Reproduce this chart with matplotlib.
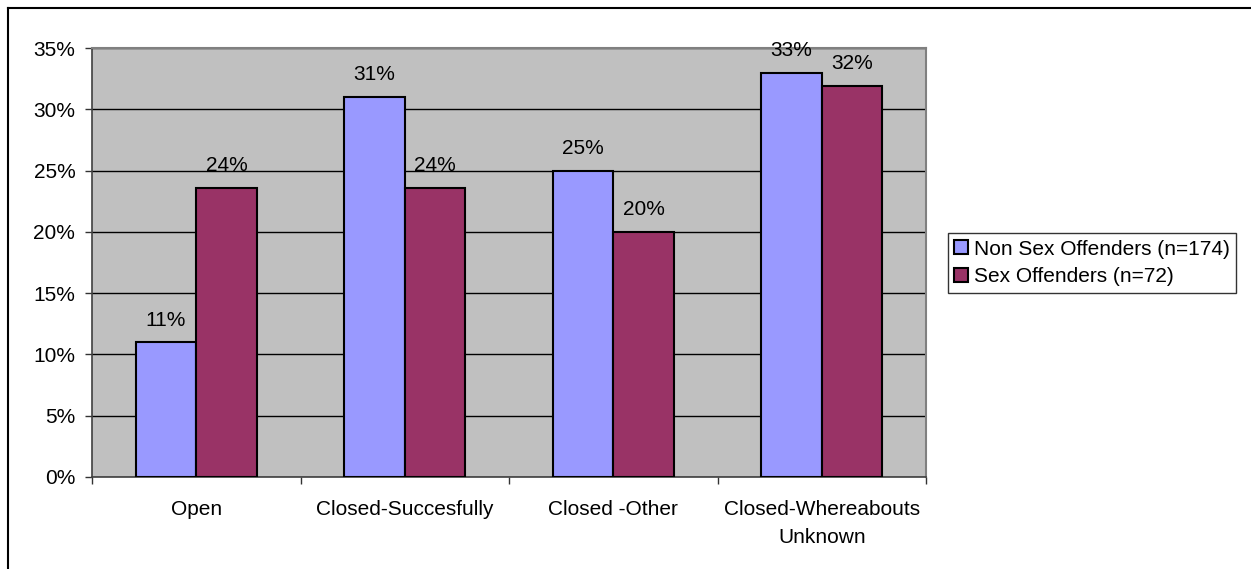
import numpy as np
import matplotlib.pyplot as plt
from matplotlib.lines import Line2D

plt.rcParams['font.family'] = ['Liberation Sans', 'DejaVu Sans']

categories = ['Open', 'Closed-Succesfully', 'Closed -Other', 'Closed-Whereabouts\nUnknown']
non_sex = [11.0, 31.0, 25.0, 33.0]
sex = [23.6, 23.6, 20.0, 31.9]
series_names = ['Non Sex Offenders (n=174)', 'Sex Offenders (n=72)']
colors = ['#9999FF', '#993366']

fs = 15

fig = plt.figure(figsize=(12.51, 5.69), dpi=100)
ax = fig.add_axes([92 / 1251, 92 / 569, 834 / 1251, 429 / 569])
ax.set_facecolor('#C0C0C0')

x = np.arange(len(categories))
w = 0.29
bars1 = ax.bar(x - w / 2, non_sex, w, color=colors[0], edgecolor='black',
               linewidth=1.5, label=series_names[0], zorder=3)
bars2 = ax.bar(x + w / 2, sex, w, color=colors[1], edgecolor='black',
               linewidth=1.5, label=series_names[1], zorder=3)

# value labels above each bar
for bars, vals in [(bars1, non_sex), (bars2, sex)]:
    for b, v in zip(bars, vals):
        ax.annotate(f'{v:.0f}%', (b.get_x() + b.get_width() / 2, v),
                    xytext=(0, 12), textcoords='offset points',
                    ha='center', va='baseline', fontsize=fs, zorder=4)

ax.set_xlim(-0.5, len(categories) - 0.5)
ax.set_ylim(0, 35)
ax.set_yticks(np.arange(0, 36, 5))
ax.set_yticklabels([f'{t}%' for t in range(0, 36, 5)], fontsize=fs)
ax.tick_params(axis='y', length=5, width=1, pad=7, color='#333333')
ax.yaxis.grid(True, color='black', linewidth=1, zorder=1)

# category boundaries get ticks, labels sit between them
ax.set_xticks(np.arange(-0.5, len(categories), 1.0))
ax.set_xticklabels([])
ax.set_xticks(x, minor=True)
ax.set_xticklabels(categories, minor=True, fontsize=fs, linespacing=1.6)
ax.tick_params(axis='x', which='major', length=5, width=1, color='#333333')
ax.tick_params(axis='x', which='minor', length=0, pad=16.5)

for side in ['top', 'right']:
    ax.spines[side].set_color('#808080')
    ax.spines[side].set_linewidth(1.5)
for side in ['left', 'bottom']:
    ax.spines[side].set_color('#404040')
    ax.spines[side].set_linewidth(1.2)

leg = fig.legend(handles=[bars1, bars2], labels=series_names,
                 loc='center left', bbox_to_anchor=(948 / 1251, 1 - 263 / 569),
                 fontsize=fs, frameon=True, fancybox=False, borderaxespad=0,
                 handlelength=0.68, handleheight=0.68, handletextpad=0.25,
                 labelspacing=0.42, borderpad=0.3)
leg.get_frame().set_edgecolor('black')
leg.get_frame().set_linewidth(1)

# outer chart border (top and left edges only)
fig.add_artist(Line2D([8 / 1251, 1], [1 - 8 / 569, 1 - 8 / 569], color='black', linewidth=1.5))
fig.add_artist(Line2D([8 / 1251, 8 / 1251], [0, 1 - 8 / 569], color='black', linewidth=1.5))

fig.savefig('out.png', dpi=100)
